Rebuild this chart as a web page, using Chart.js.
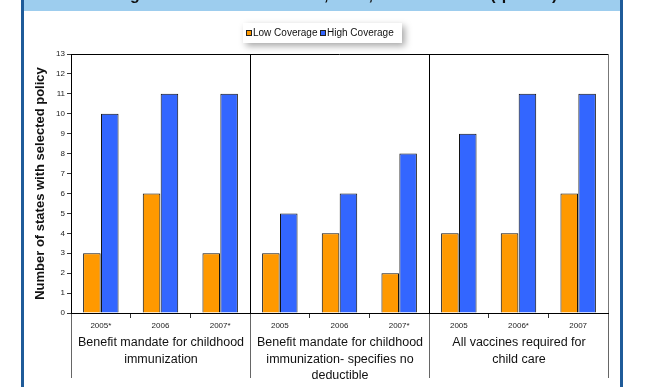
<!DOCTYPE html>
<html>
<head>
<meta charset="utf-8">
<script src="https://cdn.jsdelivr.net/npm/chart.js@4/dist/chart.umd.min.js"></script>
<style>
  html, body { margin: 0; padding: 0; background: #fff; }
  canvas { display: block; }
</style>
</head>
<body>
<canvas id="c" width="645" height="387"></canvas>
<script>
// Sub-category (year) labels, three per policy group
const years = ['2005*', '2006', '2007*', '2005', '2006', '2007*', '2005', '2006*', '2007'];
// Policy groups, pre-wrapped into lines
const policyGroups = [
  ['Benefit mandate for childhood', 'immunization'],
  ['Benefit mandate for childhood', 'immunization- specifies no', 'deductible'],
  ['All vaccines required for', 'child care']
];
const seriesNames = ['Low Coverage', 'High Coverage'];
const lowCoverage  = [3, 6, 3, 3, 4, 2, 4, 4, 6];
const highCoverage = [10, 11, 11, 5, 6, 8, 9, 11, 11];
const yMin = 0, yMax = 13, yStep = 1;
const yTitle = 'Number of states with selected policy';
const chartTitle = 'Coverage Levels and State Laws, 2005, 2006 and 2007 (*p<0.05)';

const ORANGE = '#FF9900';
const BLUE = '#3366FF';
const FONT = 'Arial, "Liberation Sans", Helvetica, sans-serif';

// Page frame: blue side rules and the title band
const framePlugin = {
  id: 'frame',
  beforeDraw(chart) {
    const ctx = chart.ctx;
    ctx.save();
    ctx.fillStyle = '#fff';
    ctx.fillRect(0, 0, chart.width, chart.height);
    ctx.fillStyle = '#9DCDEE';
    ctx.fillRect(24, 0, 597, 11);
    // title band text
    ctx.beginPath();
    ctx.rect(24, 0, 597, 11);
    ctx.clip();
    ctx.font = 'bold 16px ' + FONT;
    ctx.fillStyle = '#111';
    ctx.textBaseline = 'alphabetic';
    ctx.textAlign = 'left';
    const pre = ctx.measureText('Covera').width;
    const gw = ctx.measureText('g').width;
    ctx.fillText(chartTitle, 135 - pre - gw / 2, 0);
    ctx.restore();

    ctx.save();
    ctx.strokeStyle = '#1F5B99';
    ctx.lineWidth = 3;
    ctx.beginPath();
    ctx.moveTo(22.5, 0); ctx.lineTo(22.5, chart.height);
    ctx.moveTo(621.5, 0); ctx.lineTo(621.5, chart.height);
    ctx.stroke();
    ctx.restore();
  }
};

// Plot frame, group dividers, group labels and legend
const groupPlugin = {
  id: 'groups',
  afterDraw(chart) {
    const ctx = chart.ctx;
    const { top, bottom, left, right } = chart.chartArea;
    const x = chart.scales.x;
    const lowEnd = 378;
    ctx.save();
    ctx.lineWidth = 1;

    // top border
    ctx.strokeStyle = '#000';
    ctx.beginPath();
    ctx.moveTo(left, top + 0.5); ctx.lineTo(right, top + 0.5);
    ctx.stroke();

    const half = (x.getPixelForValue(1) - x.getPixelForValue(0)) / 2;
    const bounds = [];
    for (let i = 0; i <= years.length; i += 3) {
      const px = i < years.length ? x.getPixelForValue(i) - half : x.getPixelForValue(years.length - 1) + half;
      bounds.push(Math.round(px) + 0.5);
    }
    bounds.forEach((bx, k) => {
      const inner = k > 0 && k < bounds.length - 1;
      if (inner) {
        ctx.strokeStyle = '#000';
        ctx.beginPath(); ctx.moveTo(bx, top); ctx.lineTo(bx, bottom); ctx.stroke();
      }
      if (k === bounds.length - 1) {
        ctx.strokeStyle = '#777';
        ctx.beginPath(); ctx.moveTo(bx, top); ctx.lineTo(bx, bottom); ctx.stroke();
      }
      ctx.strokeStyle = '#666';
      ctx.beginPath(); ctx.moveTo(bx, bottom + 1); ctx.lineTo(bx, lowEnd); ctx.stroke();
    });

    // group labels
    ctx.font = '12.5px ' + FONT;
    ctx.fillStyle = '#111';
    ctx.textAlign = 'center';
    ctx.textBaseline = 'middle';
    policyGroups.forEach((lines, g) => {
      const cx = (bounds[g] + bounds[g + 1]) / 2;
      lines.forEach((t, j) => ctx.fillText(t, cx, 343 + j * 16.5));
    });

    // legend box
    const lx = 243, ly = 23, lw = 159, lh = 20;
    ctx.save();
    ctx.shadowColor = 'rgba(0,0,0,0.35)';
    ctx.shadowBlur = 7;
    ctx.shadowOffsetX = 3;
    ctx.shadowOffsetY = 3;
    ctx.fillStyle = '#fff';
    ctx.fillRect(lx, ly, lw, lh);
    ctx.restore();
    ctx.font = '10px ' + FONT;
    ctx.textAlign = 'left';
    ctx.textBaseline = 'middle';
    const items = [
      { name: chart.data.datasets[0].label, color: chart.data.datasets[0].backgroundColor, sx: 246.5 },
      { name: chart.data.datasets[1].label, color: chart.data.datasets[1].backgroundColor, sx: 320.5 }
    ];
    items.forEach(it => {
      ctx.fillStyle = it.color;
      ctx.fillRect(it.sx, 30.5, 5, 5);
      ctx.strokeStyle = '#222';
      ctx.strokeRect(it.sx, 30.5, 5, 5);
      ctx.fillStyle = '#111';
      ctx.fillText(it.name, it.sx + 6.5, 33);
    });
    ctx.restore();
  }
};

new Chart(document.getElementById('c'), {
  type: 'bar',
  data: {
    labels: years,
    datasets: [
      { label: seriesNames[0], data: lowCoverage, backgroundColor: ORANGE, borderColor: '#111', borderWidth: 1 },
      { label: seriesNames[1], data: highCoverage, backgroundColor: BLUE, borderColor: '#111', borderWidth: 1 }
    ]
  },
  options: {
    responsive: false,
    animation: false,
    devicePixelRatio: 1,
    categoryPercentage: 0.6,
    barPercentage: 0.98,
    layout: { padding: { top: 54, right: 37, left: 0, bottom: 0 } },
    plugins: { legend: { display: false }, tooltip: { enabled: false }, title: { display: false } },
    scales: {
      x: {
        afterFit(s) { s.height = 74; },
        grid: { offset: true, drawOnChartArea: false, drawTicks: true, tickLength: 5, color: '#333' },
        border: { color: '#000', width: 1 },
        ticks: { font: { size: 8, family: FONT }, color: '#222', padding: 3, maxRotation: 0, autoSkip: false }
      },
      y: {
        min: yMin, max: yMax,
        afterFit(s) { s.width = 71; },
        grid: { drawOnChartArea: false, drawTicks: true, tickLength: 4, color: '#333' },
        border: { color: '#000', width: 1 },
        ticks: { stepSize: yStep, font: { size: 8, family: FONT }, color: '#222', padding: 2 },
        title: { display: true, text: yTitle, font: { size: 13, weight: 'bold', family: FONT }, color: '#111', padding: { top: 33, bottom: 0 } }
      }
    }
  },
  plugins: [framePlugin, groupPlugin]
});
</script>
</body>
</html>
